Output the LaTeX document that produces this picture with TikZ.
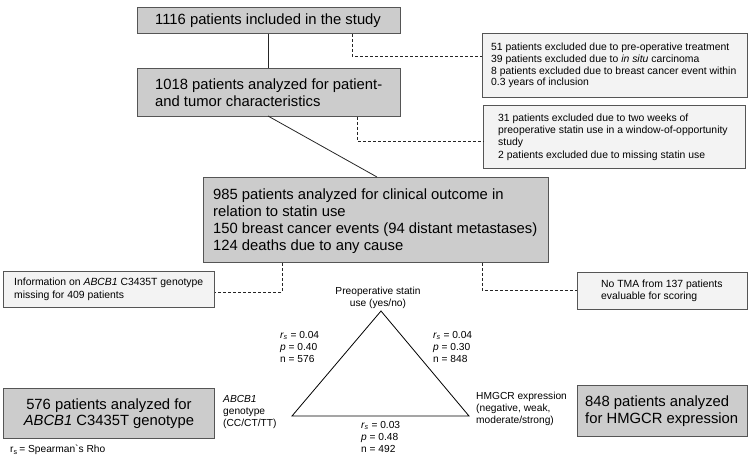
\documentclass[tikz,border=0pt]{standalone}
\usepackage{fontspec}
\setmainfont{Liberation Sans}
\definecolor{mainfill}{HTML}{CCCCCC}
\definecolor{exfill}{HTML}{F3F3F3}
\definecolor{bordc}{HTML}{555555}
\begin{document}
\begin{tikzpicture}[x=1pt,y=-1pt,
  mainbox/.style={draw=bordc, fill=mainfill, line width=0.9pt, inner sep=0pt, anchor=north west},
  exbox/.style={draw=bordc, fill=exfill, line width=0.9pt, inner sep=0pt, anchor=north west},
  mtext/.style={font=\fontsize{14.8}{17}\selectfont, align=left, inner sep=0pt, anchor=west},
  stext/.style={font=\fontsize{10.4}{11.8}\selectfont, align=left, inner sep=0pt, anchor=west},
  ttext/.style={font=\fontsize{10.2}{12}\selectfont, align=left, inner sep=0pt},
  conn/.style={line width=0.8pt, black!85},
  dconn/.style={line width=0.8pt, black!85, dash pattern=on 3pt off 2pt},
  tri/.style={line width=0.8pt, black}]
\useasboundingbox (0,0) rectangle (753,475);

% main boxes
\node[mainbox, minimum width=263pt, minimum height=26pt] (b1) at (137,7) {};
\node[mtext] (t1) at ([xshift=18pt]b1.west) {1116 patients included in the study};

\node[mainbox, minimum width=263pt, minimum height=48pt] (b2) at (137,68) {};
\node[mtext] (t2) at ([xshift=18pt]b2.west) {1018 patients analyzed for patient-\\and tumor characteristics};

\node[mainbox, minimum width=345pt, minimum height=85pt] (b3) at (203,177) {};
\node[mtext] (t3) at ([xshift=10pt,yshift=-1pt]b3.west) {985 patients analyzed for clinical outcome in\\relation to statin use\\150 breast cancer events (94 distant metastases)\\124 deaths due to any cause};

\node[mainbox, minimum width=211pt, minimum height=50pt] (b4) at (3,388) {};
\node[mtext, anchor=center, align=center, font=\fontsize{14.8}{16.5}\selectfont] (t4) at (b4.center) {576 patients analyzed for\\\textit{ABCB1} C3435T genotype};

\node[mainbox, minimum width=170pt, minimum height=51pt] (b5) at (577,385) {};
\node[mtext, font=\fontsize{14.8}{16.5}\selectfont] (t5) at ([xshift=8pt]b5.west) {848 patients analyzed\\for HMGCR expression};

% exclusion boxes
\node[exbox, minimum width=265pt, minimum height=64pt] (e1) at (482,33) {};
\node[stext] (s1) at ([xshift=9pt]e1.west) {51 patients excluded due to pre-operative treatment\\39 patients excluded due to \textit{in situ} carcinoma\\8 patients excluded due to breast cancer event within\\0.3 years of inclusion};

\node[exbox, minimum width=262pt, minimum height=63pt] (e2) at (483,105) {};
\node[stext, font=\fontsize{10.4}{12.4}\selectfont] (s2) at ([xshift=15pt]e2.west) {31 patients excluded due to two weeks of\\preoperative statin use in a window-of-opportunity\\study\\2 patients excluded due to missing statin use};

\node[exbox, minimum width=211pt, minimum height=36pt] (e3) at (3,271) {};
\node[stext, font=\fontsize{10.4}{12.5}\selectfont] (s3) at ([xshift=11pt]e3.west) {Information on \textit{ABCB1} C3435T genotype\\missing for 409 patients};

\node[exbox, minimum width=170pt, minimum height=37pt] (e4) at (577,272) {};
\node[stext, font=\fontsize{10.4}{12.5}\selectfont] (s4) at ([xshift=24pt]e4.west) {No TMA from 137 patients\\evaluable for scoring};

% connectors
\draw[conn] (b1.south -| 268,0) -- (b2.north -| 268,0);
\coordinate (c2a) at (268,116);
\coordinate (c3a) at (377,177);
\draw[conn] (c2a) -- (c3a);

\coordinate (d1) at (352,56);
\draw[dconn] (b1.south -| d1) -- (d1) -- (d1 -| e1.west);
\coordinate (d2) at (357,141);
\draw[dconn] (b2.south -| d2) -- (d2) -- (d2 -| e2.west);
\coordinate (d3) at (282,292);
\draw[dconn] (b3.south -| d3) -- (d3) -- (d3 -| e3.east);
\coordinate (d4) at (482,290);
\draw[dconn] (b3.south -| d4) -- (d4) -- (d4 -| e4.west);

% triangle
\coordinate (va) at (381,311);
\coordinate (vb) at (292,416);
\coordinate (vc) at (469,416);
\draw[tri, line join=miter] (va) -- (vb) -- (vc) -- cycle;

\node[ttext, align=center, anchor=south] (la) at (378,309) {Preoperative statin\\use (yes/no)};
\node[ttext, anchor=north west] (lb) at (223,395) {\textit{ABCB1}\\genotype\\(CC/CT/TT)};
\node[ttext, anchor=north west] (lc) at (476,392) {HMGCR expression\\(negative, weak,\\moderate/strong)};

\node[ttext, anchor=north west] (r1) at (280,331) {\textit{r\textsubscript{s}} = 0.04\\\textit{p} = 0.40\\n = 576};
\node[ttext, anchor=north west] (r2) at (433,331) {\textit{r\textsubscript{s}} = 0.04\\\textit{p} = 0.30\\n = 848};
\node[ttext, anchor=north west] (r3) at (361,421) {\textit{r\textsubscript{s}} = 0.03\\\textit{p} = 0.48\\n = 492};

\node[ttext, anchor=west] (fn) at (10,450) {r\textsubscript{s}\,= Spearman\textasciigrave s Rho};
\end{tikzpicture}
\end{document}
